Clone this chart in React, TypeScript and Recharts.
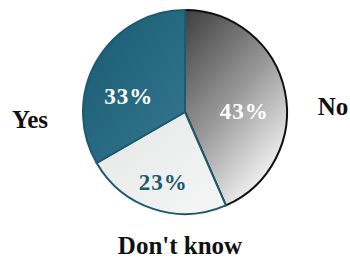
import { Cell, Pie, PieChart } from "recharts";

const categories = ["No", "Don't know", "Yes"];
const shares = [43, 23, 33];
const fills = ["url(#gNo)", "url(#gDk)", "url(#gYes)"];
const strokes = ["#111111", "#1c5a70", "#1c5a70"];
const pctColors = ["#ffffff", "#1c5a70", "#ffffff"];

const data = categories.map((name, i) => ({ name, value: shares[i] }));

const SERIF = "'Liberation Serif', 'Times New Roman', Times, serif";

// nudges so the inner % labels sit where the original put them
const labelShift = [
  { da: -11, rf: 0.58 },
  { da: 1, rf: 0.72 },
  { da: 15, rf: 0.57 },
];
// category names sit outside the pie, relative to its centre
const nameOffset = [
  { dx: 148, dy: 3 },
  { dx: -5, dy: 142 },
  { dx: -155, dy: 16 },
];

const RAD = Math.PI / 180;

function renderLabel(props: any) {
  const { cx, cy, midAngle, outerRadius, index, value } = props;
  const s = labelShift[index];
  const a = (midAngle + s.da) * RAD;
  const x = cx + outerRadius * s.rf * Math.cos(a);
  const y = cy - outerRadius * s.rf * Math.sin(a);
  const n = nameOffset[index];
  return (
    <g>
      <text
        x={x}
        y={y}
        textAnchor="middle"
        dominantBaseline="central"
        fill={pctColors[index]}
        fontFamily={SERIF}
        fontWeight="bold"
        fontSize={23}
        letterSpacing={1}
      >
        {`${value}%`}
      </text>
      <text
        x={cx + n.dx}
        y={cy + n.dy}
        textAnchor="middle"
        fill="#111111"
        fontFamily={SERIF}
        fontWeight="bold"
        fontSize={25}
      >
        {categories[index]}
      </text>
    </g>
  );
}

export default function App() {
  return (
    <div style={{ position: "absolute", left: 0, top: 0, width: 350, height: 259, background: "#ffffff" }}>
      <style>{`body{margin:0;overflow:hidden}`}</style>
      <PieChart width={350} height={259} margin={{ top: 0, right: 0, bottom: 0, left: 0 }}>
        <defs>
          <linearGradient id="gNo" x1="0" y1="0" x2="0.6" y2="1">
            <stop offset="0%" stopColor="#3e3e3e" />
            <stop offset="55%" stopColor="#9a9a9a" />
            <stop offset="100%" stopColor="#f4f4f4" />
          </linearGradient>
          <linearGradient id="gYes" x1="0" y1="0" x2="1" y2="1">
            <stop offset="0%" stopColor="#195a73" />
            <stop offset="100%" stopColor="#367890" />
          </linearGradient>
          <linearGradient id="gDk" x1="0" y1="0" x2="1" y2="1">
            <stop offset="0%" stopColor="#e4e6e6" />
            <stop offset="100%" stopColor="#f6f6f6" />
          </linearGradient>
        </defs>
        <Pie
          data={data}
          dataKey="value"
          nameKey="name"
          cx={185}
          cy={112}
          outerRadius={102}
          startAngle={90}
          endAngle={-270}
          label={renderLabel}
          labelLine={false}
          isAnimationActive={false}
        >
          {data.map((_, i) => (
            <Cell key={i} fill={fills[i]} stroke={strokes[i]} strokeWidth={2} />
          ))}
        </Pie>
      </PieChart>
    </div>
  );
}
